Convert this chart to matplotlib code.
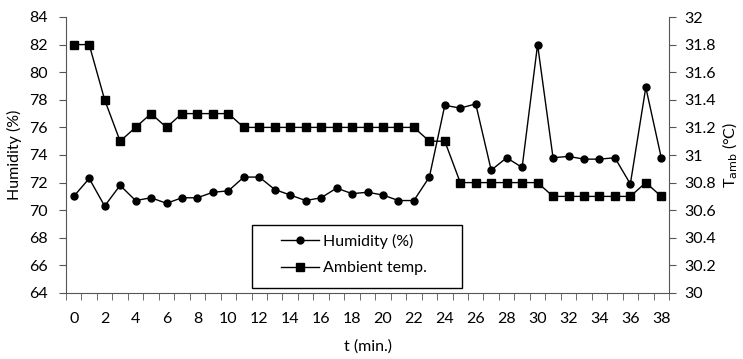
import numpy as np
import matplotlib
matplotlib.use("Agg")
import matplotlib.pyplot as plt
from matplotlib.patches import Rectangle
from matplotlib.ticker import FixedLocator, NullFormatter

plt.rcParams["font.family"] = ["Lato", "DejaVu Sans"]

t_min = list(range(0, 39))
humidity = [71.0, 72.3, 70.3, 71.8, 70.7, 70.9, 70.5, 70.9, 70.9, 71.3,
            71.4, 72.4, 72.4, 71.5, 71.1, 70.7, 70.9, 71.6, 71.2, 71.3,
            71.1, 70.7, 70.7, 72.4, 77.6, 77.4, 77.7, 72.9, 73.8, 73.1,
            82.0, 73.8, 73.9, 73.7, 73.7, 73.8, 71.9, 78.9, 73.8]
ambient = [31.8, 31.8, 31.4, 31.1, 31.2, 31.3, 31.2, 31.3, 31.3, 31.3,
           31.3, 31.2, 31.2, 31.2, 31.2, 31.2, 31.2, 31.2, 31.2, 31.2,
           31.2, 31.2, 31.2, 31.1, 31.1, 30.8, 30.8, 30.8, 30.8, 30.8,
           30.8, 30.7, 30.7, 30.7, 30.7, 30.7, 30.7, 30.8, 30.7]

fs = 11.5
W, H = 743, 359
fig = plt.figure(figsize=(W / 100, H / 100), dpi=100)
ax = fig.add_axes([66 / W, 66 / H, 603 / W, 276 / H])
ax2 = ax.twinx()

l1, = ax.plot(t_min, humidity, color="black", lw=1, marker="o", ms=5,
              label="Humidity (%)")
l2, = ax2.plot(t_min, ambient, color="black", lw=1, marker="s", ms=5.5,
               label="Ambient temp.")

ax.set_xlim(-0.5, 38.5)
ax.set_ylim(64, 84)
ax.set_yticks(np.arange(64, 85, 2))
ax2.set_ylim(30, 32)
ax2.set_yticks(np.arange(30, 32.01, 0.2))
ax2.set_yticklabels(["30", "30.2", "30.4", "30.6", "30.8", "31", "31.2",
                     "31.4", "31.6", "31.8", "32"])

# category axis: labels on even points, ticks between categories
ax.set_xticks(t_min[::2])
ax.set_xticklabels([str(v) for v in t_min[::2]])
ax.tick_params(axis="x", which="major", length=0, pad=14, labelsize=fs)
ax.xaxis.set_minor_locator(FixedLocator(np.arange(-0.5, 39, 1)))
ax.xaxis.set_minor_formatter(NullFormatter())
ax.tick_params(axis="x", which="minor", length=5, direction="out",
               color="#555555")

for a in (ax, ax2):
    a.spines["top"].set_visible(False)
    for s in a.spines.values():
        s.set_color("#555555")
    a.tick_params(axis="y", length=5, direction="out", color="#555555",
                  labelsize=fs)
ax.tick_params(axis="y", pad=8)
ax2.tick_params(axis="y", pad=6)
ax2.spines["left"].set_visible(False)
ax2.spines["bottom"].set_visible(False)
ax.spines["right"].set_visible(False)

ax.set_xlabel("t (min.)", fontsize=fs, labelpad=9)
ax.set_ylabel("Humidity (%)", fontsize=fs, labelpad=5)
ax2.set_ylabel(r"T$_{\rm amb}$ (°C)", fontsize=fs)
ax2.yaxis.set_label_coords((721 - 66) / 603, 0.5)

# legend box drawn separately, entries inside it
fig.patches.append(Rectangle((252 / W, 1 - 288 / H), 210 / W, 63 / H,
                             transform=fig.transFigure, fill=True,
                             facecolor="white", edgecolor="black", lw=1,
                             zorder=5))
leg = fig.legend(handles=[l1, l2], loc="upper left",
                 bbox_to_anchor=(281 / W, 1 - 234 / H),
                 bbox_transform=fig.transFigure, fontsize=fs,
                 frameon=False, handlelength=2.4, handletextpad=0.25,
                 borderpad=0, borderaxespad=0, labelspacing=0.75)
leg.set_zorder(6)
ax2.set_zorder(0)
ax.set_zorder(1)
ax.patch.set_visible(False)

fig.savefig("out.png", dpi=100)
